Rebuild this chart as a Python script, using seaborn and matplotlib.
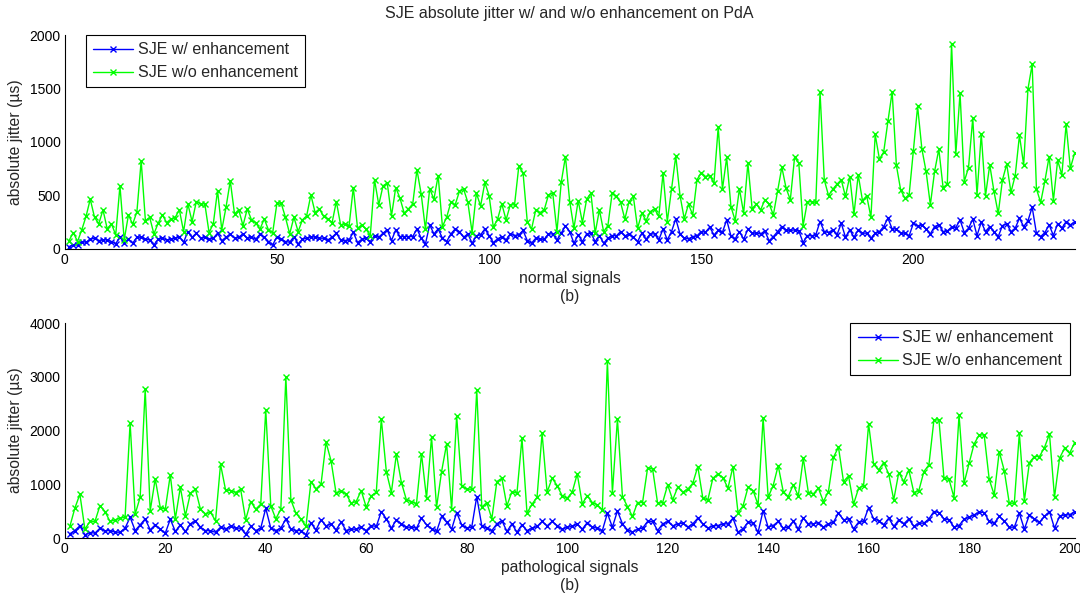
import numpy as np
import pandas as pd
import matplotlib
matplotlib.use("Agg")
import matplotlib.pyplot as plt
import seaborn as sns

# --- absolute jitter (µs), normal signals ---
normal_w = [
    22, 37, 37, 69, 62, 90, 100, 78, 84, 84,
    69, 47, 115, 53, 90, 53, 109, 109, 90, 84,
    37, 90, 100, 84, 90, 100, 115, 62, 162, 109,
    147, 100, 109, 90, 100, 147, 78, 109, 137, 100,
    109, 140, 100, 109, 90, 137, 109, 69, 37, 115,
    90, 69, 62, 115, 47, 90, 100,
    115, 109, 100, 100, 84, 109, 147, 84, 78, 84,
    156, 59, 90, 100, 69, 125, 109, 147, 178, 78,
    178, 115, 115, 115, 115, 187, 100, 47, 225, 140,
    187, 100, 69, 140, 187, 162, 109, 140, 53, 122,
    131, 187, 125, 59, 94, 115, 84, 140, 125, 131,
    172, 78, 53, 100, 90, 90, 140, 140, 84,
    147, 215, 162, 53, 131, 69, 140, 147, 69, 125,
    53, 100, 125, 122, 162, 122, 137, 109, 69, 147,
    90, 140, 140, 84, 187, 84, 162, 281, 140, 100,
    94, 115, 122, 162, 156, 203, 131, 172, 156, 271,
    122, 94, 162, 90, 184, 147, 147, 140, 168, 75,
    115, 162, 209, 178, 172, 178, 168, 59, 125, 122,
    131, 256, 162, 153, 178, 131, 240, 109, 178, 109,
    178, 147, 147, 100, 147, 162, 209, 287, 187, 187,
    147, 147, 122, 240, 215, 225, 187, 140, 209, 225,
    162, 168, 203, 200, 271, 153, 193, 278, 125, 250,
    162, 209, 162, 115, 218, 234, 162, 193, 287, 209,
    262, 390, 147, 115, 153, 225, 125, 234, 193, 256,
    225, 250,
]
normal_wo = [
    78, 153, 69, 178, 303, 465, 296, 234, 365, 187,
    234, 131, 590, 84, 318, 231, 349, 824, 262, 296,
    140, 240, 318, 246, 278, 293, 365, 162, 421, 256,
    443, 421, 421, 153, 234, 546, 178, 390, 636, 328,
    365, 218, 374, 271, 246, 184, 281, 178, 153, 427,
    427, 296, 140, 296, 162, 271, 309,
    505, 340, 374, 303, 278, 246, 443, 225, 234, 215,
    574, 193, 225, 184, 125, 646, 412, 590, 615, 309,
    574, 474, 334, 374, 421, 739, 512, 184, 562, 465,
    686, 209, 296, 437, 412, 537, 558, 434, 153, 521,
    402, 621, 499, 203, 278, 421, 271, 412, 412, 771,
    714, 256, 184, 365, 340, 365, 505, 521, 162,
    621, 864, 443, 193, 452, 246, 465, 521, 147, 365,
    162, 218, 521, 490, 434, 278, 443, 490, 193, 334,
    265, 349, 374, 303, 708, 256, 558, 870, 499, 281,
    418, 318, 646, 714, 677, 686, 615, 1139, 558, 855,
    396, 265, 562, 334, 802, 374, 421, 365, 459, 421,
    318, 543, 764, 568, 459, 855, 802, 215, 437, 443,
    434, 1470, 646, 499, 558, 605, 646, 490, 677, 324,
    693, 452, 496, 296, 1070, 839, 905, 1192, 1470, 780,
    552, 474, 505, 917, 1332, 936, 724, 412, 724, 933,
    574, 605, 1919, 886, 1457, 630, 761, 1223, 505, 1076,
    496, 786, 537, 331, 646, 792, 530, 686, 1061, 786,
    1494, 1725, 562, 434, 636, 864, 452, 827, 693, 1164,
    755, 895,
]

# --- absolute jitter (µs), pathological signals ---
patho_w = [
    81, 142, 229, 62, 105, 93, 186, 136, 142, 111,
    111, 186, 390, 142, 248, 359, 155, 248, 167, 93,
    353, 124, 248, 124, 266, 322, 204, 142, 136, 111,
    204, 167, 229, 186, 186, 74, 217, 142, 186, 557,
    186, 142, 186, 359, 167, 142, 142, 62, 279, 155,
    341, 229, 266, 155, 297, 142, 167, 167, 204, 142,
    235, 217, 496, 359, 186, 341, 266, 204, 204, 186,
    372, 248, 173, 124, 403, 297, 167, 477, 248, 186,
    204, 774, 229, 186, 142, 266, 328, 124, 266, 111,
    248, 142, 186, 217, 310, 229, 310, 235, 167, 204,
    217, 266, 167, 291, 204, 186, 142, 465, 204, 508,
    266, 155, 111, 167, 186, 310, 310, 142, 266, 310,
    229, 266, 279, 204, 266, 372, 266, 186, 229, 235,
    266, 266, 372, 111, 173, 297, 279, 111, 514, 204,
    235, 310, 186, 204, 310, 173, 372, 266, 266, 291,
    204, 266, 297, 465, 341, 359, 173, 297, 310, 570,
    359, 328, 248, 372, 217, 341, 266, 359, 217, 279,
    279, 359, 496, 477, 359, 341, 204, 235, 353, 390,
    434, 483, 477, 310, 279, 403, 322, 204, 204, 465,
    167, 434, 359, 297, 403, 496, 186, 403, 434, 434,
    496,
]
patho_wo = [
    217, 557, 818, 167, 310, 310, 607, 496, 310, 341,
    372, 390, 2149, 446, 762, 2775, 508, 1103, 570, 539,
    1177, 359, 948, 415, 836, 911, 539, 452, 483, 322,
    1375, 898, 886, 849, 911, 341, 681, 539, 632, 2385,
    601, 359, 539, 3004, 712, 465, 353, 217, 1053, 917,
    1003, 1784, 1437, 836, 880, 824, 650, 681, 886, 576,
    787, 855, 2217, 1239, 849, 1561, 1034, 712, 681, 638,
    1567, 743, 1877, 576, 1239, 1753, 539, 2273, 979, 911,
    911, 2756, 576, 663, 359, 1053, 1115, 601, 867, 836,
    1858, 465, 632, 762, 1951, 855, 1115, 979, 787, 743,
    855, 1195, 638, 793, 663, 619, 526, 3301, 849, 2217,
    774, 588, 403, 663, 663, 1301, 1288, 650, 663, 991,
    712, 948, 855, 911, 1022, 1332, 743, 712, 1115, 1195,
    1127, 929, 1332, 477, 601, 948, 886, 619, 2242, 762,
    979, 1350, 867, 774, 991, 787, 1487, 849, 824, 929,
    681, 867, 1505, 1691, 1053, 1158, 632, 929, 979, 2125,
    1375, 1270, 1406, 1195, 712, 1220, 1053, 1270, 849, 886,
    1239, 1363, 2199, 2199, 1115, 1096, 756, 2292, 1022, 1394,
    1753, 1920, 1920, 1096, 805, 1610, 1257, 650, 650, 1951,
    694, 1406, 1518, 1518, 1685, 1939, 762, 1487, 1672, 1579,
    1778,
]

series_names = ["SJE w/ enhancement", "SJE w/o enhancement"]
series_colors = ["#0000ff", "#00ff00"]
title_text = "SJE absolute jitter w/ and w/o enhancement on PdA"
ylabel_text = "absolute jitter (\u00b5s)"
top_xlabel = "normal signals\n(b)"
bottom_xlabel = "pathological signals\n(b)"
top_xticks = [0, 50, 100, 150, 200]
top_yticks = [0, 500, 1000, 1500, 2000]
bottom_xticks = list(range(0, 201, 20))
bottom_yticks = [0, 1000, 2000, 3000, 4000]


def long_frame(with_enh, without_enh):
    n = len(with_enh)
    x = np.arange(1, n + 1)
    return pd.DataFrame({
        "signal": np.concatenate([x, x]),
        "jitter": np.concatenate([with_enh, without_enh]),
        "series": [series_names[0]] * n + [series_names[1]] * len(without_enh),
    })


sns.set_style("white")
plt.rcParams["font.family"] = ["Liberation Sans", "DejaVu Sans"]
plt.rcParams["xtick.direction"] = "in"
plt.rcParams["ytick.direction"] = "in"

fig = plt.figure(figsize=(10.8, 5.94), dpi=100)
ax1 = fig.add_axes([0.060, 0.581, 0.935, 0.360])
ax2 = fig.add_axes([0.060, 0.094, 0.935, 0.362])

palette = dict(zip(series_names, series_colors))


def draw(ax, frame, xmax, xticks, ymax, yticks, xlabel, legend_loc, anchor):
    sns.lineplot(data=frame, x="signal", y="jitter", hue="series",
                 palette=palette, marker="x", markersize=5,
                 linewidth=1.0, estimator=None, sort=False, ax=ax)
    # "x" markers are edge-only: give them the line colour
    for line in ax.lines:
        line.set_markeredgecolor(line.get_color())
        line.set_markeredgewidth(1.0)
    ax.set_xlim(0, xmax)
    ax.set_ylim(0, ymax)
    ax.set_xticks(xticks)
    ax.set_yticks(yticks)
    ax.tick_params(axis="both", labelsize=10, length=4, width=0.8,
                   color="black", labelcolor="black", pad=3)
    ax.tick_params(axis="x", top=False)
    ax.tick_params(axis="y", right=False)
    for side in ["top", "right"]:
        ax.spines[side].set_visible(False)
    for side in ["left", "bottom"]:
        ax.spines[side].set_color("black")
        ax.spines[side].set_linewidth(0.8)
    ax.set_xlabel(xlabel, fontsize=11.3, labelpad=3, linespacing=1.2)
    ax.set_ylabel(ylabel_text, fontsize=11.3, labelpad=5)
    handles, labels = ax.get_legend_handles_labels()
    for h in handles:
        h.set_markeredgecolor(h.get_color())
        h.set_markeredgewidth(1.0)
        h.set_markersize(5)
    leg = ax.legend(handles, labels, loc=legend_loc, fontsize=11.5,
                    frameon=True, fancybox=False, framealpha=1,
                    edgecolor="black", borderpad=0.45, handlelength=2.5,
                    handletextpad=0.3, labelspacing=0.5, borderaxespad=0.0,
                    bbox_to_anchor=anchor, bbox_transform=ax.transAxes)
    leg.get_frame().set_linewidth(0.8)
    return leg


draw(ax1, long_frame(normal_w, normal_wo), 238, top_xticks, 2000,
     top_yticks, top_xlabel, "upper left", (0.021, 1.0))
ax1.set_title(title_text, fontsize=11.5, pad=12)

draw(ax2, long_frame(patho_w, patho_wo), 201, bottom_xticks, 4000,
     bottom_yticks, bottom_xlabel, "upper right", (0.995, 1.0))

fig.savefig("out.png", dpi=100)
